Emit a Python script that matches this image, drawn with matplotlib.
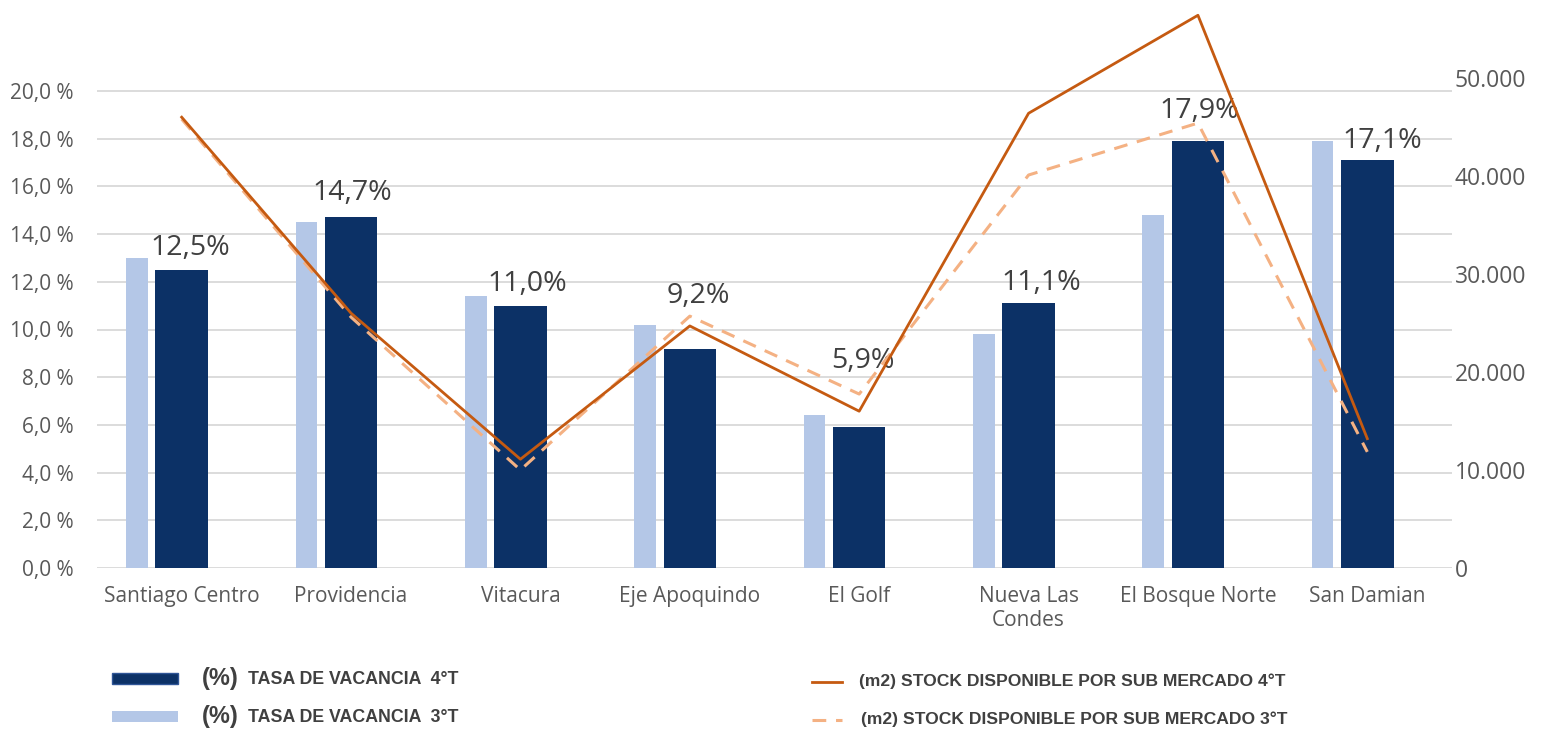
#!/usr/bin/env python3
"""
Vacancy rate and available stock per sub-market (3T vs 4T)
"""

import matplotlib
matplotlib.use('Agg')
import matplotlib.pyplot as plt
import numpy as np
from matplotlib.lines import Line2D
from matplotlib.patches import Rectangle
from matplotlib.ticker import FuncFormatter

# data
categories = ['Santiago Centro', 'Providencia', 'Vitacura', 'Eje Apoquindo',
              'El Golf', 'Nueva Las\nCondes', 'El Bosque Norte', 'San Damian']
vacancy_4t = [12.5, 14.7, 11.0, 9.2, 5.9, 11.1, 17.9, 17.1]
vacancy_3t = [13.0, 14.5, 11.4, 10.2, 6.4, 9.8, 14.8, 17.9]
stock_4t = [46000, 26000, 11100, 24700, 16000, 46400, 56400, 13200]
stock_3t = [45800, 25600, 10000, 25700, 17750, 40100, 45400, 11850]
vacancy_labels = ['12,5%', '14,7%', '11,0%', '9,2%', '5,9%', '11,1%', '17,9%', '17,1%']

# label placement (pixels), labels were hand placed in the original
label_dx = [9, 1, 7, 9, 4, 13, 1, 15]
label_dy = [15, 17, 15, 46, 59, 13, 23, 12]

DARK = '#0C3166'
LIGHT = '#B4C7E7'
ORANGE = '#C55A11'
PEACH = '#F4B183'
GREY = '#595959'
FONT = 'Open Sans'
BOLD = 'Liberation Sans'

plt.rcParams['font.family'] = [FONT, 'DejaVu Sans']

fig = plt.figure(figsize=(15.41, 7.29), dpi=100)
ax = fig.add_axes([97 / 1541, 1 - 568 / 729, (1452 - 97) / 1541, (568 - 10) / 729])
ax2 = ax.twinx()

x = np.arange(len(categories))
ax.bar(x - 0.264, vacancy_3t, width=0.128, color=LIGHT, zorder=2)
ax.bar(x, vacancy_4t, width=0.31, color=DARK, zorder=2)

for i, lab in enumerate(vacancy_labels):
    ax.annotate(lab, xy=(x[i], vacancy_4t[i]), xytext=(label_dx[i], label_dy[i]),
                textcoords='offset pixels', ha='center', va='baseline',
                fontsize=20.5, color='#404040', zorder=3)

ax2.plot(x, stock_3t, color=PEACH, lw=2.2, dashes=(4.5, 3.2))
ax2.plot(x, stock_4t, color=ORANGE, lw=2.0)

ax.set_xlim(-0.5, len(categories) - 0.5)
ax.set_ylim(0, 558 / 23.85)
ax2.set_ylim(0, 558 / 9.8 * 1000)

ax.set_yticks(np.arange(0, 21, 2))
ax.yaxis.set_major_formatter(FuncFormatter(lambda v, p: f'{v:.1f} %'.replace('.', ',')))
ax2.set_yticks(np.arange(0, 50001, 10000))
ax2.yaxis.set_major_formatter(FuncFormatter(lambda v, p: f'{v:,.0f}'.replace(',', '.')))

ax.set_xticks(x)
ax.set_xticklabels(categories, fontsize=15, color=GREY, linespacing=1.2)
ax.tick_params(axis='x', length=0, pad=13)
ax.tick_params(axis='y', length=0, pad=17, labelsize=15, labelcolor=GREY)
ax2.tick_params(axis='y', length=0, pad=2, labelsize=16.5, labelcolor=GREY)

ax.grid(axis='y', color='#D9D9D9', lw=1.3, zorder=0)
ax.set_axisbelow(True)
for a in (ax, ax2):
    for s in a.spines.values():
        s.set_visible(False)

# legend drawn by hand in pixel coordinates
def fy(py):
    return 1 - py / 729

def fx(px):
    return px / 1541

fig.patches.append(Rectangle((fx(112), fy(684)), fx(66), 11 / 729, transform=fig.transFigure,
                             facecolor=DARK, edgecolor='#2F5597', lw=1))
fig.patches.append(Rectangle((fx(112), fy(722)), fx(66), 11 / 729, transform=fig.transFigure,
                             facecolor=LIGHT, edgecolor='none'))
for py, q in [(678, '4°T'), (717, '3°T')]:
    fig.text(fx(202), fy(py), '(%)', fontsize=17, fontweight='bold', color='#404040',
             family=[BOLD, 'DejaVu Sans'], va='center')
    fig.text(fx(248), fy(py + 1), f'TASA DE VACANCIA  {q}', fontsize=12.8, fontweight='bold',
             color='#404040', family=[BOLD, 'DejaVu Sans'], va='center')

fig.lines.append(Line2D([fx(812), fx(842)], [fy(682), fy(682)], transform=fig.transFigure,
                        color=ORANGE, lw=2.0))
fig.lines.append(Line2D([fx(812), fx(842)], [fy(720), fy(720)], transform=fig.transFigure,
                        color=PEACH, lw=2.2, dashes=(4.5, 3.2)))
fig.text(fx(859), fy(681), '(m2) STOCK DISPONIBLE POR SUB MERCADO 4°T', fontsize=12.6,
         fontweight='bold', color='#404040', family=[BOLD, 'DejaVu Sans'], va='center')
fig.text(fx(861), fy(719), '(m2) STOCK DISPONIBLE POR SUB MERCADO 3°T', fontsize=12.6,
         fontweight='bold', color='#404040', family=[BOLD, 'DejaVu Sans'], va='center')

fig.savefig('out.png', dpi=100)
